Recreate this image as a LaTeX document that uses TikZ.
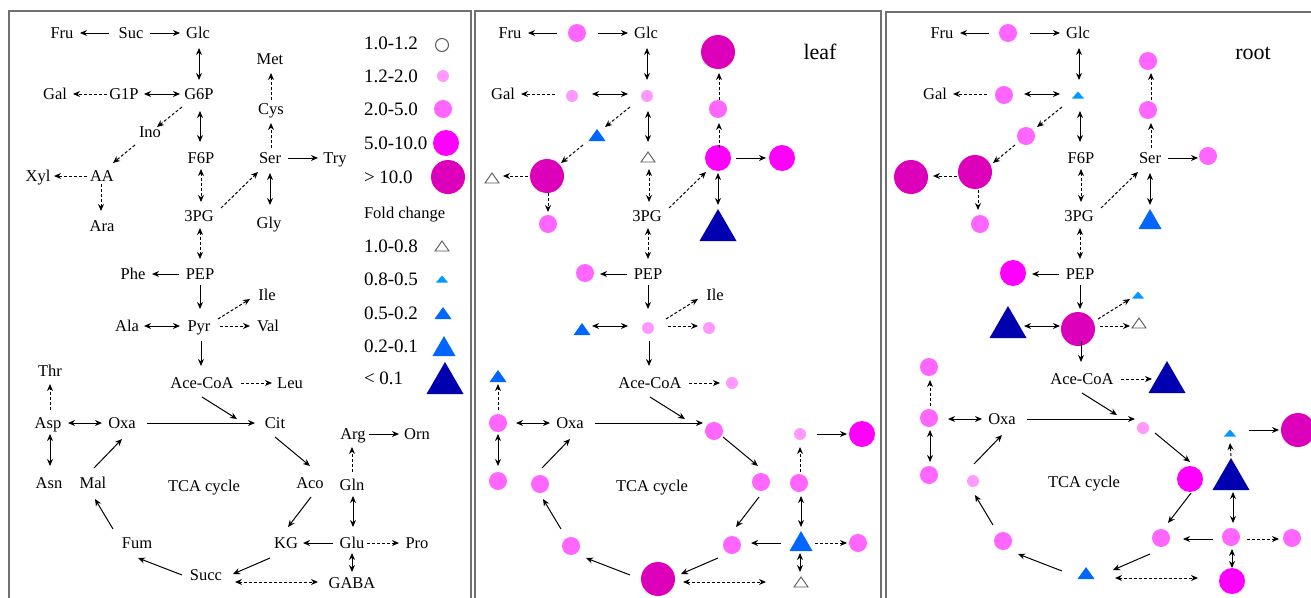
\documentclass[tikz,border=0pt]{standalone}
\usepackage{fontspec}
\setmainfont{Liberation Serif}
\usetikzlibrary{calc,arrows.meta}
\definecolor{cpa}{HTML}{FF99FF}
\definecolor{cpb}{HTML}{FF66FF}
\definecolor{cpc}{HTML}{FF00FF}
\definecolor{cpd}{HTML}{DD00BB}
\definecolor{cba}{HTML}{0099FF}
\definecolor{cbb}{HTML}{0066FF}
\definecolor{cbd}{HTML}{0000B0}
\definecolor{bordc}{HTML}{707070}
\tikzset{
  lab/.style={inner sep=0pt, outer sep=0pt, font=\fontsize{16.5}{18}\selectfont, text height=11pt, text depth=0pt},
  leg/.style={inner sep=0pt, outer sep=0pt, anchor=west, font=\fontsize{19}{21}\selectfont, text height=12.5pt, text depth=0pt},
  ar/.style={line width=1pt, -{Stealth[length=7pt,width=6pt]}},
  dar/.style={line width=1pt, {Stealth[length=7pt,width=6pt]}-{Stealth[length=7pt,width=6pt]}},
  dsh/.style={ar, dash pattern=on 3pt off 2pt},
  ddsh/.style={dar, dash pattern=on 3pt off 2pt},
  circ/.style={circle, inner sep=0pt, outer sep=0pt, draw=none},
  cA/.style={circ, minimum size=12pt, fill=cpa},
  cB/.style={circ, minimum size=18pt, fill=cpb},
  cC/.style={circ, minimum size=26pt, fill=cpc},
  cD/.style={circ, minimum size=34pt, fill=cpd},
  cO/.style={circ, minimum size=13pt, draw=gray!70!black, line width=1pt},
  tri/.style n args={3}{inner sep=0pt, outer sep=0pt, minimum width=#1, minimum height=#2,
    append after command={\pgfextra{\fill[#3] (\tikzlastnode.south west) -- (\tikzlastnode.south east) -- (\tikzlastnode.north) -- cycle;}}},
  tA/.style={tri={12pt}{7pt}{cba}},
  tB/.style={tri={17pt}{12pt}{cbb}},
  tC/.style={tri={23pt}{20pt}{cbb}},
  tD/.style={tri={37pt}{32pt}{cbd}},
  tO/.style={inner sep=0pt, outer sep=0pt, minimum width=14pt, minimum height=10pt,
    append after command={\pgfextra{\draw[gray!70!black, line width=0.9pt] (\tikzlastnode.south west) -- (\tikzlastnode.south east) -- (\tikzlastnode.north) -- cycle;}}},
  bord/.style={draw=bordc, line width=1.6pt}
}
\newcommand\anchors[3]{%
\begin{scope}[xshift=#2]
\coordinate (#1Fru) at (62,33);
\coordinate (#1Suc) at (131,33);
\coordinate (#1Glc) at (198,33);
\coordinate (#1Gal) at (55,94);
\coordinate (#1G1P) at (124,94);
\coordinate (#1G6P) at (199,94);
\coordinate (#1Met) at (270,59);
\coordinate (#1Ino) at (150,132);
\coordinate (#1Cys) at (271,109);
\coordinate (#1F6P) at (201,158);
\coordinate (#1Ser) at (270,158);
\coordinate (#1Try) at (335,158);
\coordinate (#1Xyl) at (38,176);
\coordinate (#1AA) at (102,176);
\coordinate (#1Ara) at (102,226);
\coordinate (#13PG) at (199,216);
\coordinate (#1Gly) at (269,223);
\coordinate (#1Phe) at (133,274);
\coordinate (#1PEP) at (200,274);
\coordinate (#1Ile) at (267,295);
\coordinate (#1Ala) at (127,326);
\coordinate (#1Pyr) at (199,326);
\coordinate (#1Val) at (268,326);
\begin{scope}[yshift=#3]
\coordinate (#1Thr) at (50,371);
\coordinate (#1AceCoA) at (202,383);
\coordinate (#1Leu) at (290,383);
\coordinate (#1Asp) at (48,423);
\coordinate (#1Oxa) at (122,423);
\coordinate (#1Cit) at (275,423);
\coordinate (#1Arg) at (353,434);
\coordinate (#1Orn) at (417,434);
\coordinate (#1Asn) at (49,483);
\coordinate (#1Mal) at (93,483);
\coordinate (#1TCA) at (204,486);
\coordinate (#1Aco) at (310,483);
\coordinate (#1Gln) at (352,485);
\coordinate (#1Fum) at (137,543);
\coordinate (#1KG) at (286,543);
\coordinate (#1Glu) at (352,543);
\coordinate (#1Pro) at (417,543);
\coordinate (#1Succ) at (206,575);
\coordinate (#1GABA) at (352,583);
\end{scope}
\end{scope}}
\newcommand\A[5]{\draw[#1] ($(\P#2)+(#3)$) -- ($(\P#4)+(#5)$);}
\begin{document}
\begin{tikzpicture}[x=1pt,y=-1pt]
\useasboundingbox (0,0) rectangle (1311,597);
% panel frames
\draw[bord] (9,600) -- (9,11) -- (471,11) -- (471,600);
\draw[bord] (475,600) -- (475,11) -- (881,11) -- (881,600);
\draw[bord] (886,600) -- (886,12) -- (1315,12);
% anchors
\anchors{a}{0pt}{0pt}
\anchors{b}{448pt}{0pt}
\anchors{c}{880pt}{4pt}
% ---------- panel 1 labels
\foreach \n/\t in {Fru/Fru,Suc/Suc,Glc/Glc,Gal/Gal,G1P/G1P,G6P/G6P,Met/Met,Ino/Ino,Cys/Cys,F6P/F6P,Ser/Ser,Try/Try,Xyl/Xyl,AA/AA,Ara/Ara,3PG/3PG,Gly/Gly,Phe/Phe,PEP/PEP,Ile/Ile,Ala/Ala,Pyr/Pyr,Val/Val,Thr/Thr,AceCoA/Ace-CoA,Leu/Leu,Asp/Asp,Oxa/Oxa,Cit/Cit,Arg/Arg,Orn/Orn,Asn/Asn,Mal/Mal,TCA/TCA cycle,Aco/Aco,Gln/Gln,Fum/Fum,KG/KG,Glu/Glu,Pro/Pro,Succ/Succ,GABA/GABA}
  {\node[lab] (na\n) at (a\n) {\t};}
% legend
\node[leg] (lg1) at (364,43) {1.0-1.2};
\node[leg] (lg2) at (364,76) {1.2-2.0};
\node[leg] (lg3) at (364,109) {2.0-5.0};
\node[leg] (lg4) at (364,143) {5.0-10.0};
\node[leg] (lg5) at (364,177) {> 10.0};
\node[lab, anchor=west] (lg6) at (364,213) {Fold change};
\node[leg] (lg7) at (364,246) {1.0-0.8};
\node[leg] (lg8) at (364,279) {0.8-0.5};
\node[leg] (lg9) at (364,313) {0.5-0.2};
\node[leg] (lg10) at (364,346) {0.2-0.1};
\node[leg] (lg11) at (364,378) {< 0.1};
\node[cO] (ls1) at (442,45) {};
\node[cA] (ls2) at (443,76) {};
\node[cB] (ls3) at (443,109) {};
\node[cC] (ls4) at (446,143) {};
\node[cD] (ls5) at (448,177) {};
\node[tO] (ls7) at (442,246) {};
\node[tA] (ls8) at (442,279) {};
\node[tB] (ls9) at (443,313) {};
\node[tC] (ls10) at (444,346) {};
\node[tD] (ls11) at (445,378) {};
% ---------- panel 2
\foreach \n/\t in {Fru/Fru,Glc/Glc,Gal/Gal,3PG/3PG,PEP/PEP,Ile/Ile,AceCoA/Ace-CoA,Oxa/Oxa,TCA/TCA cycle}
  {\node[lab] (nb\n) at (b\n) {\t};}
\node[inner sep=0pt, font=\fontsize{22}{24}\selectfont] (leaf) at (820,52) {leaf};
\begin{scope}[xshift=448pt]
\node[cB] (nbSuc) at (129,33) {};
\node[cA] (nbG1P) at (124,96) {};
\node[cA] (nbG6P) at (199,96) {};
\node[cD] (nbMet) at (270,52) {};
\node[cB] (nbCys) at (270,109) {};
\node[tB] (nbIno) at (149,135) {};
\node[tO] (nbF6P) at (200,157) {};
\node[cC] (nbSer) at (270,158) {};
\node[cC] (nbTry) at (334,158) {};
\node[cD] (nbAA) at (99,176) {};
\node[tO] (nbXyl) at (44,178) {};
\node[cB] (nbAra) at (100,224) {};
\node[tD] (nbGly) at (270,225) {};
\node[cB] (nbPhe) at (137,273) {};
\node[tB] (nbAla) at (134,329) {};
\node[cA] (nbPyr) at (200,328) {};
\node[cA] (nbVal) at (261,328) {};
\node[tB] (nbThr) at (50,376) {};
\node[cB] (nbAsp) at (50,423) {};
\node[cA] (nbLeu) at (284,383) {};
\node[cB] (nbCit) at (266,431) {};
\node[cA] (nbArg) at (352,434) {};
\node[cC] (nbOrn) at (414,434) {};
\node[cB] (nbAsn) at (50,481) {};
\node[cB] (nbMal) at (92,484) {};
\node[cB] (nbAco) at (313,482) {};
\node[cB] (nbGln) at (351,483) {};
\node[cB] (nbFum) at (123,546) {};
\node[cB] (nbKG) at (284,545) {};
\node[tC] (nbGlu) at (353,541) {};
\node[cB] (nbPro) at (410,543) {};
\node[cD] (nbSucc) at (210,579) {};
\node[tO] (nbGABA) at (353,582) {};
\end{scope}
% ---------- panel 3
\foreach \n/\t in {Fru/Fru,Glc/Glc,Gal/Gal,F6P/F6P,Ser/Ser,3PG/3PG,PEP/PEP,AceCoA/Ace-CoA,Oxa/Oxa,TCA/TCA cycle}
  {\node[lab] (nc\n) at (c\n) {\t};}
\node[inner sep=0pt, font=\fontsize{22}{24}\selectfont] (root) at (1253,53) {root};
\begin{scope}[xshift=880pt]
\node[cB] (ncSuc) at (128,33) {};
\node[cB] (ncG1P) at (124,95) {};
\node[tA] (ncG6P) at (198,95) {};
\node[cB] (ncMet) at (268,61) {};
\node[cB] (ncCys) at (268,110) {};
\node[cB] (ncIno) at (146,136) {};
\node[cB] (ncTry) at (328,156) {};
\node[cD] (ncAA) at (95,172) {};
\node[cD] (ncXyl) at (31,177) {};
\node[cB] (ncAra) at (100,224) {};
\node[tC] (ncGly) at (270,219) {};
\node[cC] (ncPhe) at (133,273) {};
\node[tA] (ncIle) at (258,295) {};
\node[cD] (ncPyr) at (198,329) {};
\node[tD] (ncAla) at (128,322) {};
\node[tO] (ncVal) at (259,323) {};
\node[cB] (ncThr) at (49,367) {};
\node[cB] (ncAsp) at (49,418) {};
\node[cB] (ncAsn) at (49,475) {};
\node[tD] (ncLeu) at (287,377) {};
\node[cA] (ncCit) at (263,428) {};
\node[tA] (ncArg) at (350,433) {};
\node[cD] (ncOrn) at (418,430) {};
\node[cA] (ncMal) at (93,481) {};
\node[cC] (ncAco) at (310,479) {};
\node[tD] (ncGln) at (351,474) {};
\node[cB] (ncFum) at (123,541) {};
\node[cB] (ncKG) at (281,538) {};
\node[cB] (ncGlu) at (351,537) {};
\node[cB] (ncPro) at (412,538) {};
\node[tB] (ncSucc) at (206,573) {};
\node[cC] (ncGABA) at (352,581) {};
\end{scope}
% ---------- connectors (same in all panels)
\foreach \P in {a,b,c}{
\A{ar}{Suc}{-22,0}{Fru}{18,0}
\A{ar}{Suc}{19,0}{Glc}{-18,0}
\A{dar}{Glc}{1,15}{G6P}{0,-14}
\A{dsh}{G1P}{-17,0}{Gal}{18,0}
\A{dar}{G1P}{20,0}{G6P}{-19,0}
\A{dsh}{G6P}{-17,13}{Ino}{7,-5}
\A{dsh}{Cys}{0,-9}{Met}{1,14}
\A{dar}{G6P}{1,17}{F6P}{-1,-16}
\A{ar}{Ser}{18,0}{Try}{-17,0}
\A{dsh}{Ser}{1,-10}{Cys}{0,14}
\A{dsh}{Ino}{-15,13}{AA}{11,-13}
\A{ddsh}{F6P}{0,11}{3PG}{2,-14}
\A{dsh}{3PG}{22,-8}{Ser}{-12,14}
\A{dar}{Ser}{0,15}{Gly}{1,-18}
\A{ddsh}{3PG}{1,12}{PEP}{0,-15}
\A{ar}{PEP}{-21,0}{Phe}{19,0}
\A{ar}{PEP}{0,11}{Pyr}{1,-17}
\A{dsh}{Pyr}{19,-7}{Ile}{-17,4}
\A{dar}{Ala}{17,0}{Pyr}{-19,0}
\A{dsh}{Pyr}{21,0}{Val}{-18,0}
\A{ar}{Pyr}{2,15}{AceCoA}{-1,-17}
\A{dsh}{AceCoA}{39,0}{Leu}{-18,0}
\A{dsh}{Asp}{2,-13}{Thr}{0,13}
\A{dar}{Asp}{20,0}{Oxa}{-20,0}
\A{ar}{Oxa}{25,0}{Cit}{-20,0}
\A{ar}{AceCoA}{0,14}{Cit}{-38,-4}
\A{ar}{Arg}{16,0}{Orn}{-18,0}
\A{ar}{Cit}{0,14}{Aco}{0,-17}
\A{dar}{Asp}{2,11}{Asn}{1,-17}
\A{ar}{Mal}{1,-15}{Oxa}{0,16}
\A{ar}{Aco}{1,14}{KG}{2,-16}
\A{dar}{Gln}{1,11}{Glu}{1,-16}
\A{ar}{Glu}{-19,0}{KG}{17,0}
\A{dsh}{Glu}{15,0}{Pro}{-18,0}
\A{ar}{Fum}{-24,-14}{Mal}{2,16}
\A{ar}{KG}{-16,15}{Succ}{27,-1}
\A{ar}{Succ}{-24,0}{Fum}{1,15}
\A{ddsh}{Succ}{29,7}{GABA}{-34,-1}
\A{dar}{Glu}{0,10}{GABA}{0,-11}
}
% ---------- connectors that differ per panel
\def\P{a}
\A{dsh}{AA}{-15,0}{Xyl}{16,0}
\A{dsh}{AA}{-1,8}{Ara}{-1,-15}
\A{dsh}{Gln}{0,-13}{Arg}{-1,13}
\def\P{b}
\A{dsh}{AA}{-22,0}{Xyl}{17,0}
\A{dsh}{AA}{-2,17}{Ara}{-2,-14}
\A{dsh}{Gln}{0,-13}{Arg}{-1,13}
\def\P{c}
\A{dsh}{AA}{-25,0}{Xyl}{15,0}
\A{dsh}{AA}{-4,14}{Ara}{-4,-16}
\A{dsh}{Gln}{-1,-25}{Arg}{-3,13}
\end{tikzpicture}
\end{document}
